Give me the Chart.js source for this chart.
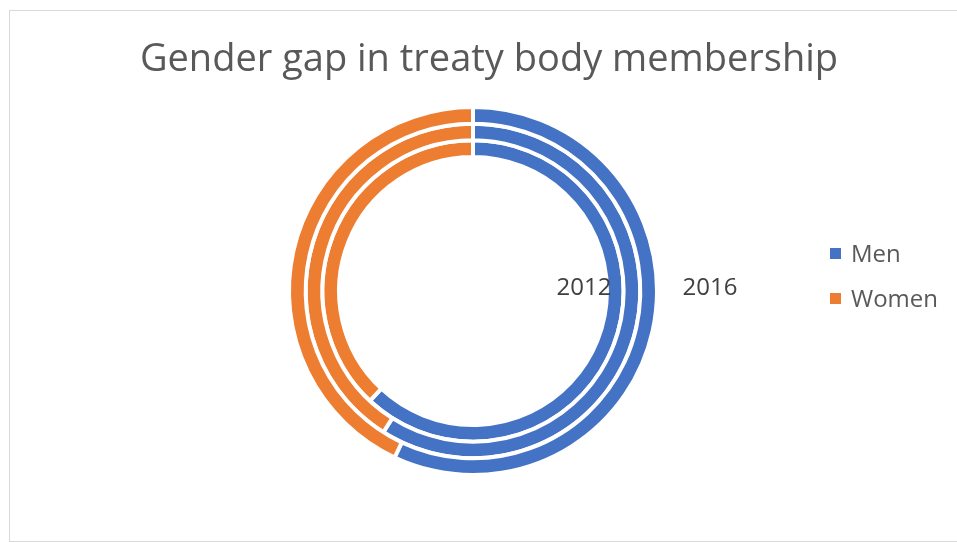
<!DOCTYPE html>
<html>
<head>
<meta charset="utf-8">
<script src="https://cdn.jsdelivr.net/npm/chart.js@4"></script>
<style>
  html, body { margin: 0; padding: 0; background: #fff; overflow: hidden; }
  #frame { position: absolute; left: 9px; top: 10px; width: 960px; height: 530px; border: 1px solid #d9d9d9; }
  #wrap  { position: absolute; left: 0; top: 0; width: 957px; height: 542px; }
</style>
</head>
<body>
<div id="frame"></div>
<div id="wrap"><canvas id="chart-donut" width="957" height="542"></canvas></div>
<script>
'use strict';

/* ── Data ── */
const categories  = ['Men', 'Women'];
const ringLabels  = ['2012', '', '2016'];      // inner → outer
const menShare    = [62, 59, 57];              // inner → outer
const womenShare  = [38, 41, 43];
const colors      = ['#4472C4', '#ED7D31'];

const TITLE = 'Gender gap in treaty body membership';
const FONT  = '"Open Sans", "Noto Sans", sans-serif';

// Chart.js puts dataset 0 on the outside, so build outer → inner
const datasets = ringLabels.map((lbl, i) => ({
  label: lbl,
  data: [menShare[i], womenShare[i]],
  backgroundColor: colors,
  borderColor: '#ffffff',
  borderWidth: 4,
  hoverOffset: 0,
})).reverse();

/* ── Title, legend and ring labels ── */
const textPlugin = {
  id: 'texts',
  afterDraw(chart) {
    const ctx = chart.ctx;
    const { left, right, top, bottom } = chart.chartArea;
    const cx = (left + right) / 2;
    const cy = (top + bottom) / 2;
    ctx.save();

    // title
    ctx.fillStyle = '#595959';
    ctx.font = '38px ' + FONT;
    ctx.textAlign = 'center';
    ctx.textBaseline = 'alphabetic';
    ctx.fillText(TITLE, 489, 71);

    // legend
    ctx.textAlign = 'left';
    ctx.font = '24px ' + FONT;
    chart.data.labels.forEach((lab, i) => {
      const y = 248 + i * 45;
      ctx.fillStyle = colors[i];
      ctx.fillRect(830, y, 11, 11);
      ctx.fillStyle = '#595959';
      ctx.fillText(lab, 851, y + 14);
    });

    // ring (series) labels
    ctx.fillStyle = '#404040';
    ctx.font = '24px ' + FONT;
    ctx.textAlign = 'center';
    ctx.textBaseline = 'middle';
    const offsets = [111, 0, 237];
    ringLabels.forEach((lbl, i) => {
      if (lbl) ctx.fillText(lbl, cx + offsets[i], cy - 3);
    });

    ctx.restore();
  },
};

new Chart(document.getElementById('chart-donut'), {
  type: 'doughnut',
  data: { labels: categories, datasets },
  options: {
    responsive: false,
    animation: false,
    cutout: '72.8%',
    layout: { padding: { left: 287, right: 298, top: 105, bottom: 65 } },
    plugins: {
      legend: { display: false },
      title: { display: false },
      tooltip: { enabled: false },
    },
  },
  plugins: [textPlugin],
});
</script>
</body>
</html>
